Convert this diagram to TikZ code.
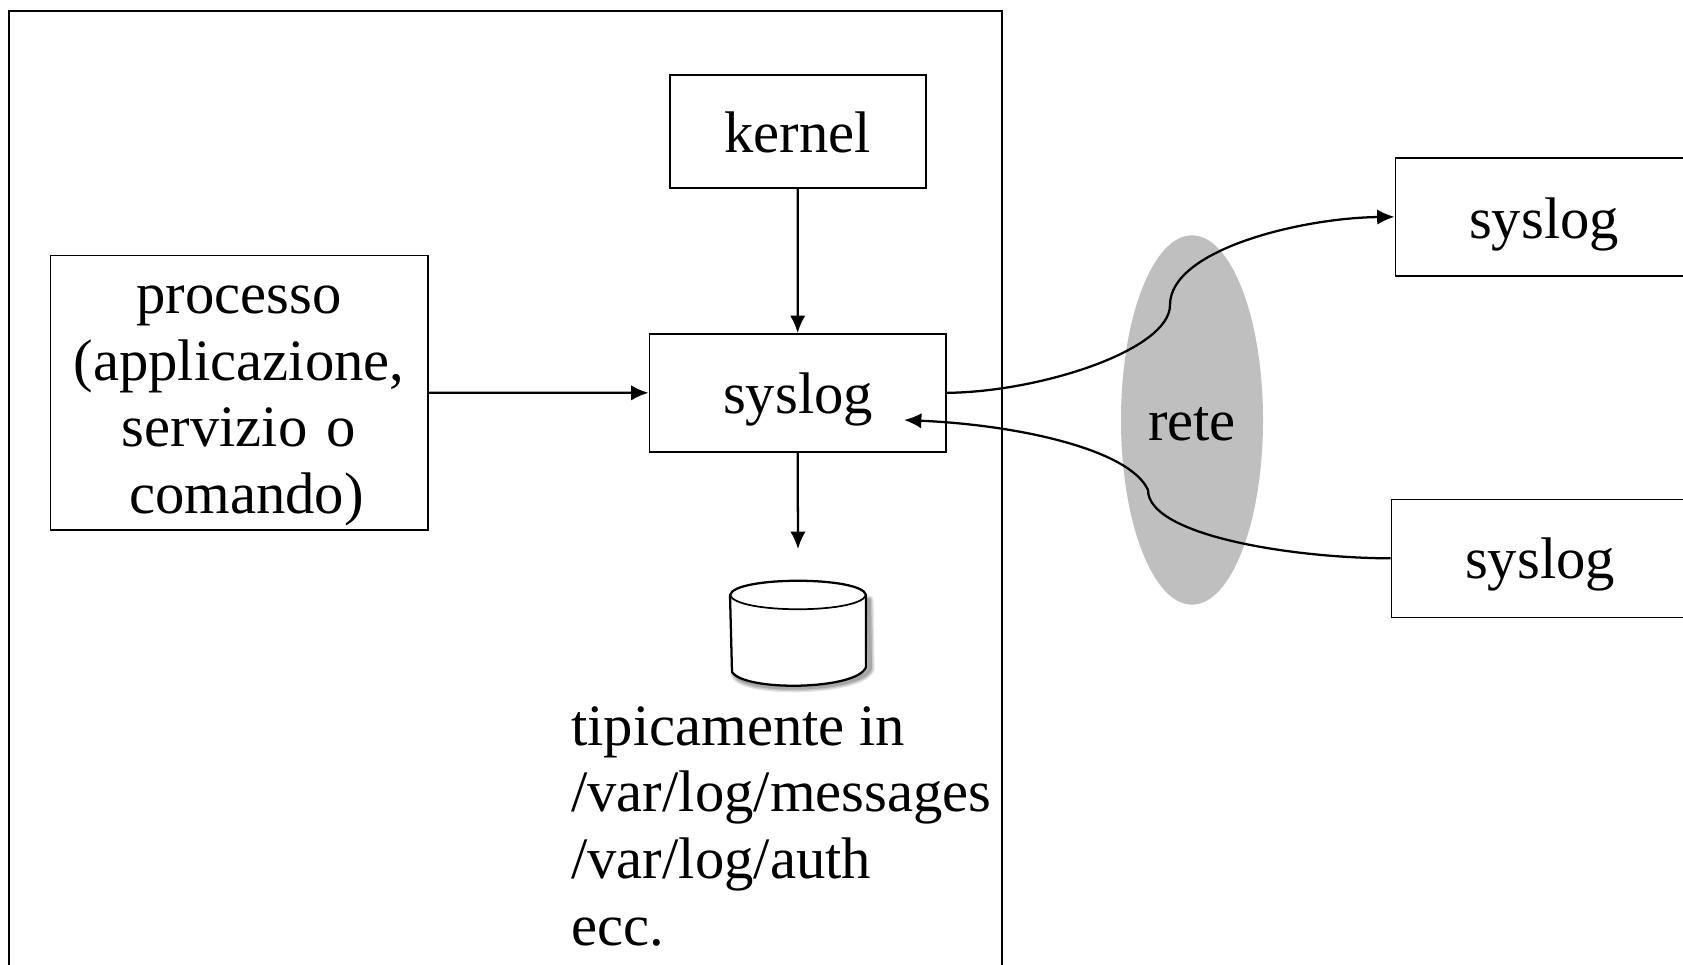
\documentclass[tikz,border=0pt]{standalone}
\usepackage{fontspec}
\setmainfont{Liberation Serif}
\usetikzlibrary{arrows.meta,shapes.geometric}
\tikzset{
 px/.style={x=0.75pt,y=-0.75pt},
 boxn/.style={draw,line width=1.25pt,minimum width=#1,inner sep=0pt,anchor=north west},
 lbl/.style={font=\fontsize{44}{50}\selectfont,inner sep=0pt,align=center},
 conn/.style={line width=1.7pt,-{Latex[length=13pt,width=11.5pt]}},
 dbshadow/.style={draw=black,line cap=round,line join=round,fill=none},
}
\begin{document}
\begin{tikzpicture}[px]
\useasboundingbox (0,0) rectangle (1683,964);
\fill[white] (0,0) rectangle (1683,964);
\draw[line width=1.2pt] (9,970) -- (9,11) -- (1002,11) -- (1002,970);
\node[ellipse,fill=black!25,minimum width=106.5pt,minimum height=277pt,inner sep=0pt] (net) at (1192,420) {};
\node[lbl] at (1192,424) {rete};
\node[boxn=192pt,minimum height=85pt] (kernel) at (669,74) {};
\node[lbl] at (797.5,132) {kernel};
\node[boxn=283pt,minimum height=206pt] (proc) at (49.5,254.5) {};
\node[lbl,text width=340pt] at (239,406) {processo\\(applicazione,\\servizio o\\\hspace*{11pt}comando)};
\node[boxn=222.5pt,minimum height=88.5pt] (sys) at (648.5,333) {};
\node[lbl] at (798,399) {syslog};
\node[boxn=230pt,minimum height=88.5pt] (s1) at (1394.5,157) {};
\node[lbl] at (1544,224) {syslog};
\node[boxn=230pt,minimum height=88.5pt] (s2) at (1390.5,498.5) {};
\node[lbl] at (1540,564) {syslog};
\coordinate (dbtop) at (798,549);
\coordinate (sysin) at (904,420);
\draw[conn] (kernel.south) -- (sys.north);
\draw[conn] (proc.east) -- (sys.west);
\draw[conn] (sys.south) -- (dbtop);
\draw[conn] (sys.east) .. controls (1040,392) and (1170,350) .. (1170,305) .. controls (1170,250) and (1300,218) .. (s1.west);
\draw[conn] (s2.west) .. controls (1290,558) and (1148,535) .. (1148,490) .. controls (1130,450) and (1020,425) .. (sysin);
\foreach \w/\o in {7/0.10,5/0.12,3/0.16}{
 \draw[dbshadow,line width=\w pt,opacity=\o] (869,600) -- (870,669) .. controls (860,692) and (742,694) .. (735,674);
}
\draw[line width=1.7pt,fill=white,line join=round] (730,595) .. controls (734,576) and (862,576) .. (866,595) -- (866,667) .. controls (858,690) and (745,692) .. (732,672) -- cycle;
\draw[line width=1.3pt] (730,595) .. controls (736,614) and (860,614) .. (866,595);
\node[lbl,align=left,anchor=north west] at (571,706) {tipicamente in\\/var/log/messages\\/var/log/auth\\ecc.};
\end{tikzpicture}
\end{document}
